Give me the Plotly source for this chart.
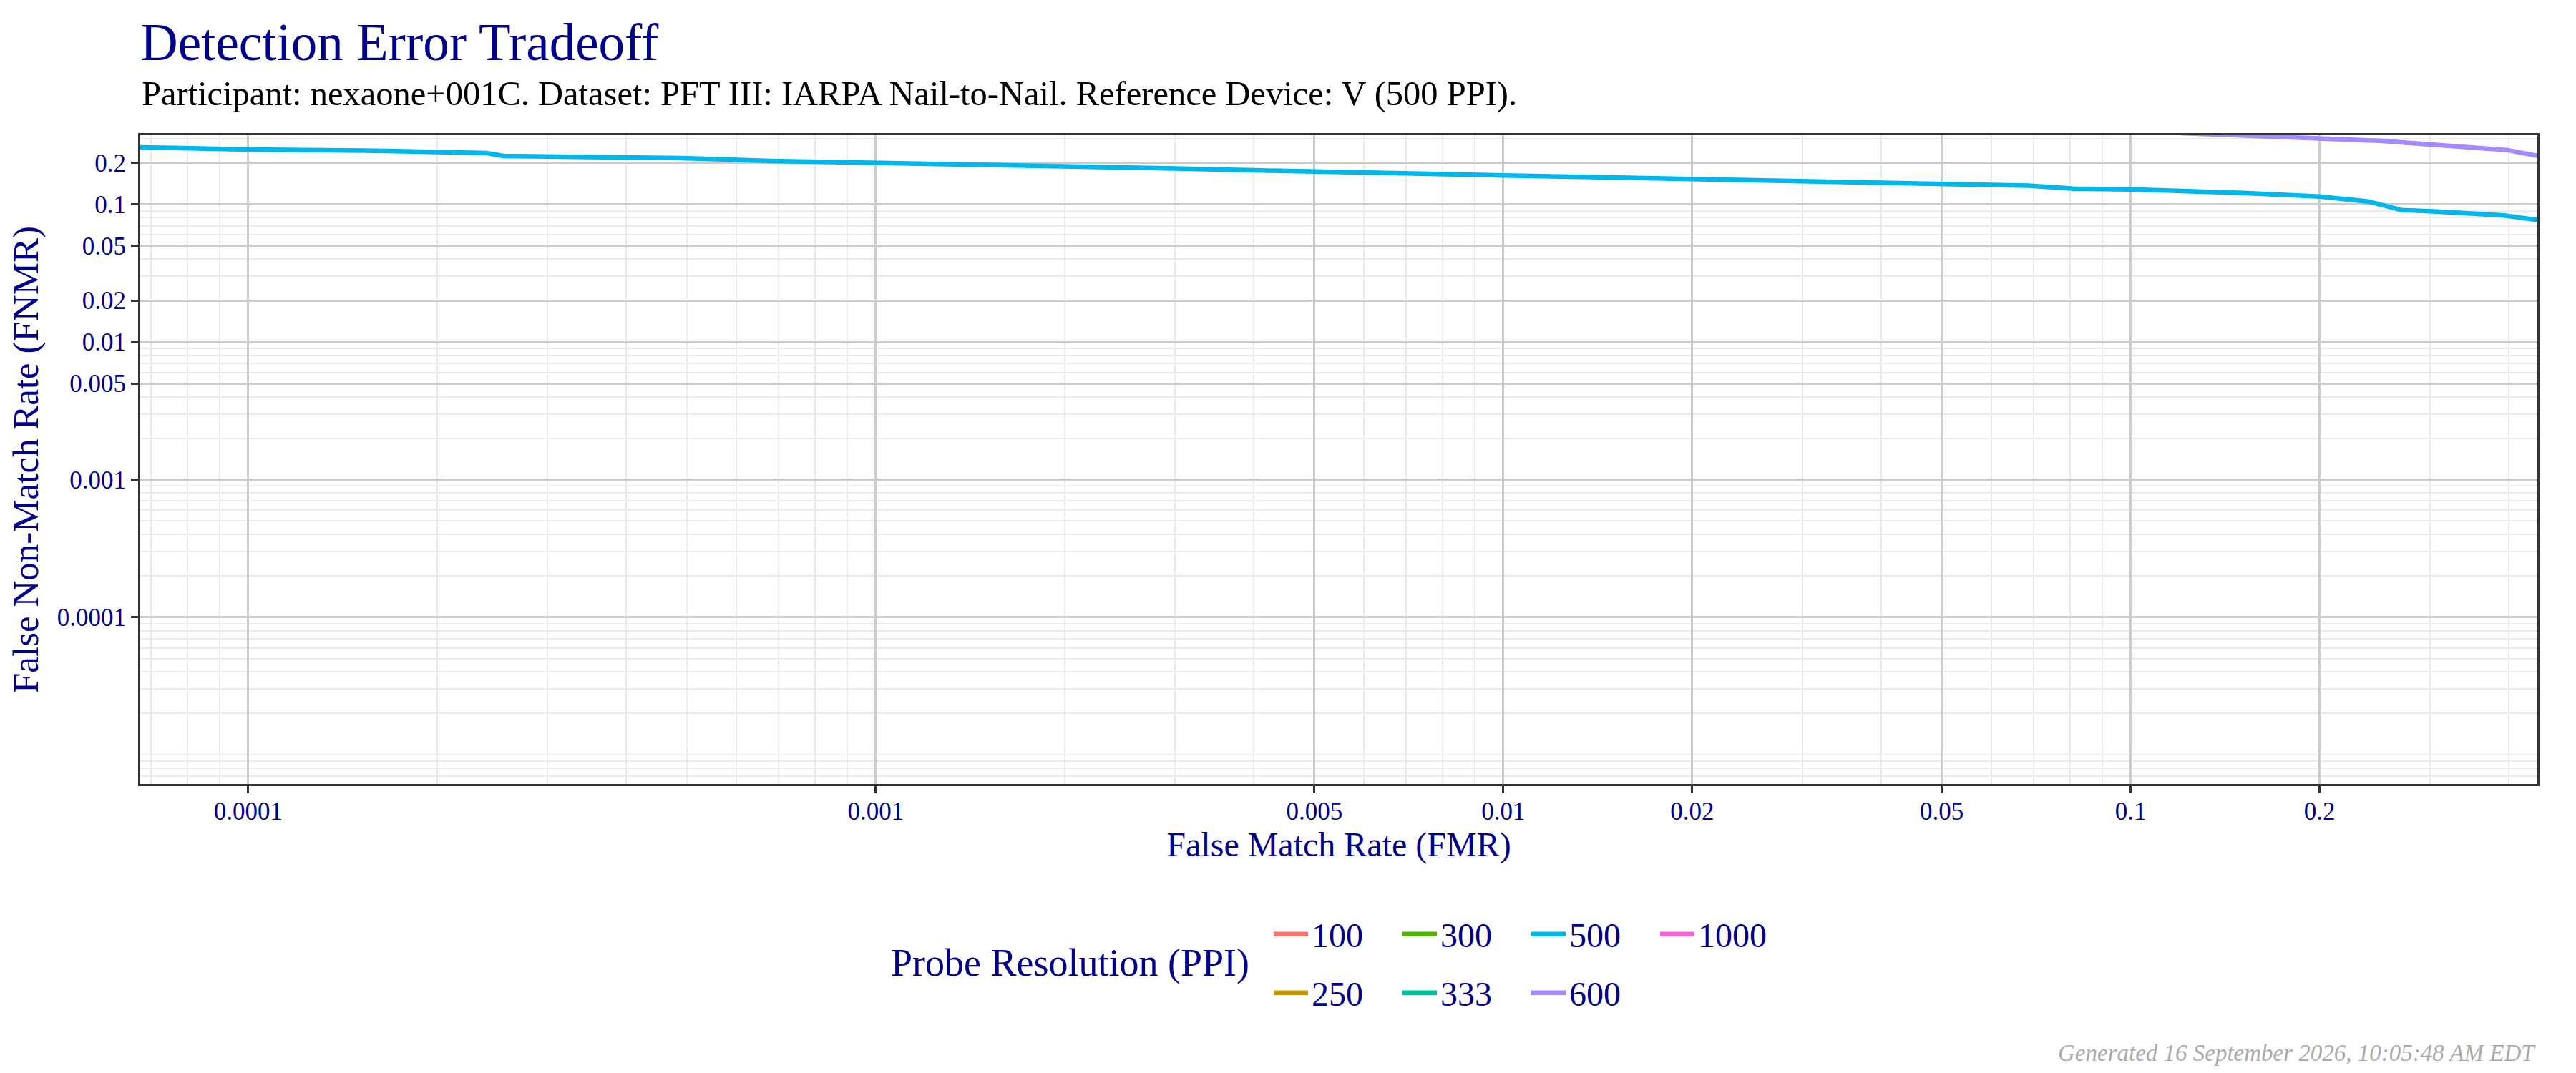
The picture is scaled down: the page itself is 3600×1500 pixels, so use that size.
import plotly.graph_objects as go

# Probe resolution levels (ggplot default hue palette, 7 levels)
ppi_levels = ["100", "250", "300", "333", "500", "600", "1000"]
ppi_colors = ["#F8766D", "#C49A00", "#53B400", "#00C094", "#00B6EB", "#A58AFF", "#FB61D7"]

# 500 PPI curve
fmr_500 = [6.7e-5, 1.0e-4, 1.67e-4, 2.4e-4, 2.55e-4, 3.0e-4, 4.9e-4, 6.8e-4, 1.0e-3,
           1.49e-3, 2.0e-3, 3.0e-3, 4.0e-3, 5.0e-3, 7.0e-3, 0.01, 0.0138, 0.02, 0.029,
           0.0499, 0.0687, 0.081, 0.1, 0.151, 0.2, 0.239, 0.27, 0.304, 0.394, 0.446]
fnmr_500 = [0.260, 0.251, 0.245, 0.236, 0.225, 0.223, 0.217, 0.207, 0.201,
            0.1946, 0.188, 0.1825, 0.177, 0.1726, 0.168, 0.1626, 0.158, 0.153, 0.148,
            0.140, 0.137, 0.130, 0.1285, 0.121, 0.114, 0.105, 0.091, 0.089, 0.083, 0.077]

# 600 PPI curve, enters through the top of the panel
fmr_600 = [0.12, 0.153, 0.2, 0.249, 0.298, 0.357, 0.399, 0.446]
fnmr_600 = [0.33, 0.318, 0.303, 0.290, 0.273, 0.260, 0.248, 0.225]

# the other resolutions have nothing inside the plotted range
series = {
    "500": (fmr_500, fnmr_500),
    "600": (fmr_600, fnmr_600),
}

tick_vals = [0.0001, 0.001, 0.005, 0.01, 0.02, 0.05, 0.1, 0.2]
tick_text = ["0.0001", "0.001", "0.005", "0.01", "0.02", "0.05", "0.1", "0.2"]
minor_vals = [k * 10.0 ** e for e in range(-6, 0) for k in range(1, 10)]

NAVY = "#00008B"
FONT = "Liberation Serif"

# legend rows as in the ggplot legend (filled by column)
row1 = ["100", "300", "500", "1000"]

fig = go.Figure()
for lvl, col in zip(ppi_levels, ppi_colors):
    xs, ys = series.get(lvl, ([None], [None]))
    fig.add_trace(go.Scatter(
        x=xs, y=ys, mode="lines", name=lvl, showlegend=True,
        line=dict(color=col, width=6.5),
        legend="legend" if lvl in row1 else "legend2",
        legendrank=ppi_levels.index(lvl),
    ))

axis_common = dict(
    type="log",
    tickvals=tick_vals, ticktext=tick_text,
    showgrid=True, gridcolor="#cccccc", gridwidth=2.5,
    minor=dict(tickvals=minor_vals, showgrid=True, gridcolor="#ebebeb", gridwidth=2, ticks=""),
    showline=True, linecolor="#333333", linewidth=3, mirror=True,
    ticks="outside", ticklen=10, tickwidth=3, tickcolor="#333333",
    tickfont=dict(family=FONT, size=35, color=NAVY),
    zeroline=False,
)

fig.update_xaxes(**axis_common, range=[-4.172, -0.352], ticklabelstandoff=-5,
                 title=dict(text="False Match Rate (FMR)", font=dict(family=FONT, size=48, color=NAVY), standoff=1))
fig.update_yaxes(**axis_common, range=[-5.212, -0.497],
                 title=dict(text="False Non-Match Rate (FNMR)", font=dict(family=FONT, size=51, color=NAVY), standoff=12))

leg = dict(orientation="h", xref="container", yref="container", xanchor="left", yanchor="middle",
           font=dict(family=FONT, size=48, color=NAVY), entrywidth=117, entrywidthmode="pixels",
           itemwidth=48, bgcolor="rgba(0,0,0,0)", tracegroupgap=0)

fig.update_layout(
    width=3600, height=1500,
    showlegend=True,
    paper_bgcolor="white", plot_bgcolor="white",
    margin=dict(l=188, r=62, t=181, b=412),
    title=dict(text="Detection Error Tradeoff", x=0, xref="paper", xanchor="left",
               y=1 - 76 / 1500, yref="container", yanchor="bottom",
               font=dict(family=FONT, size=73, color=NAVY)),
    legend=dict(leg, x=1767 / 3600, y=1 - 1298 / 1500),
    legend2=dict(leg, x=1767 / 3600, y=1 - 1380 / 1500),
    annotations=[
        dict(text="Participant: nexaone+001C. Dataset: PFT III: IARPA Nail-to-Nail. Reference Device: V (500 PPI).",
             xref="paper", yref="paper", x=0, y=(1088 - 152) / 907, xanchor="left", yanchor="bottom",
             showarrow=False, font=dict(family=FONT, size=48.5, color="black")),
        dict(text="Probe Resolution (PPI)", xref="paper", yref="paper",
             x=(1740 - 188) / 3350, y=(1088 - 1338) / 907, xanchor="right", yanchor="middle",
             showarrow=False, font=dict(family=FONT, size=54, color=NAVY)),
        dict(text="<i>Generated 16 September 2026, 10:05:48 AM EDT</i>", xref="paper", yref="paper",
             x=1.0, y=(1088 - 1484) / 907, xanchor="right", yanchor="bottom",
             showarrow=False, font=dict(family=FONT, size=33, color="#AAAAAA")),
    ],
)

fig.write_html("out.html")
